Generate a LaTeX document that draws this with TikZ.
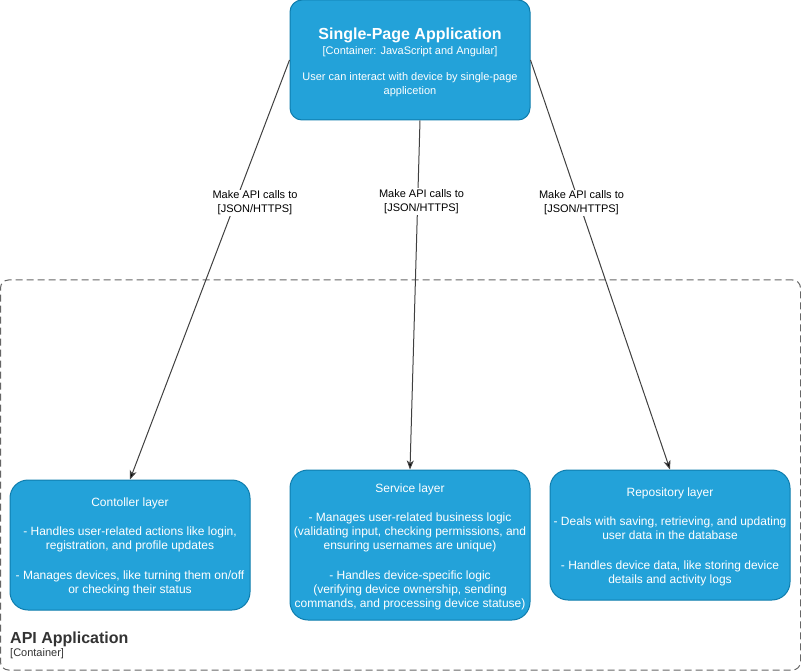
\documentclass[tikz,border=0pt]{standalone}
\usepackage{fontspec}
\setmainfont{Liberation Sans}
\usetikzlibrary{arrows.meta}
\definecolor{c4blue}{HTML}{23A2D9}
\definecolor{c4stroke}{HTML}{0E7DAD}
\definecolor{bnd}{HTML}{666666}
\definecolor{lnk}{HTML}{404040}
\definecolor{dtext}{HTML}{333333}
\begin{document}
\begin{tikzpicture}[x=1pt,y=-1pt,
  box/.style={draw=c4stroke, fill=c4blue, rounded corners=#1, text=white, align=center, inner sep=0pt, line width=1pt, minimum width=240pt},
  box/.default=12pt,
  layertext/.style={font=\fontsize{12}{14}\selectfont},
  link/.style={draw=lnk, line width=1pt, -{Stealth[length=9pt, width=7pt, inset=2.5pt, fill=black]}},
  lbl/.style={fill=white, inner sep=1pt, align=center, text=black, font=\fontsize{11}{14}\selectfont},
  boundary/.style={draw=bnd, line width=1pt, dash pattern=on 7pt off 4pt, rounded corners=8pt, minimum width=800pt, minimum height=390pt, inner sep=0pt}
]
\useasboundingbox (0,0) rectangle (801,671);

\node[boundary] (api) at (400.5,475) {};
\node[anchor=base west, inner sep=0pt, text=dtext, font=\fontsize{16}{16}\selectfont\bfseries] (apiname) at (10,643) {API Application};
\node[anchor=base west, inner sep=0pt, text=dtext, font=\fontsize{11}{11}\selectfont] (apitype) at (10,656.5) {[Container]};

\node[box=12pt, minimum height=120pt, font=\fontsize{11}{13.3}\selectfont] (spa) at (410,60)
  {\rule{0pt}{15.5pt}{\fontsize{16}{16}\selectfont\bfseries Single-Page Application}\\[2.4pt]
   {[Container: JavaScript and Angular]}\\[12.9pt]
   User can interact with device by single-page\\
   applicetion};

\node[box=18pt, minimum height=130pt, layertext] (ctrl) at (130,545)
  {\rule{0pt}{12.2pt}Contoller layer\\[15.5pt]
   - Handles user-related actions like login,\\
   registration, and profile updates\\[15.5pt]
   - Manages devices, like turning them on/off\\
   or checking their status};

\node[box=18pt, minimum height=150pt, layertext] (svc) at (410,545)
  {\rule{0pt}{12.2pt}Service layer\\[15.5pt]
   - Manages user-related business logic\\
   (validating input, checking permissions, and\\
   ensuring usernames are unique)\\[15.5pt]
   - Handles device-specific logic\\
   (verifying device ownership, sending\\
   commands, and processing device statuse)};

\node[box=18pt, minimum height=130pt, layertext] (repo) at (670,535)
  {\rule{0pt}{12.2pt}Repository layer\\[15.5pt]
   - Deals with saving, retrieving, and updating\\
   user data in the database\\[15.5pt]
   - Handles device data, like storing device\\
   details and activity logs};

\draw[link] (spa.west) -- (ctrl.north);
\draw[link] ([xshift=10pt]spa.south) -- (svc.north);
\draw[link] (spa.east) -- (repo.north);

\node[lbl] (l1) at (255,203) {Make API calls to\\{[JSON/HTTPS]}};
\node[lbl] (l2) at (421.5,201.5) {Make API calls to\\{[JSON/HTTPS]}};
\node[lbl] (l3) at (581.5,203) {Make API calls to\\{[JSON/HTTPS]}};
\end{tikzpicture}
\end{document}
